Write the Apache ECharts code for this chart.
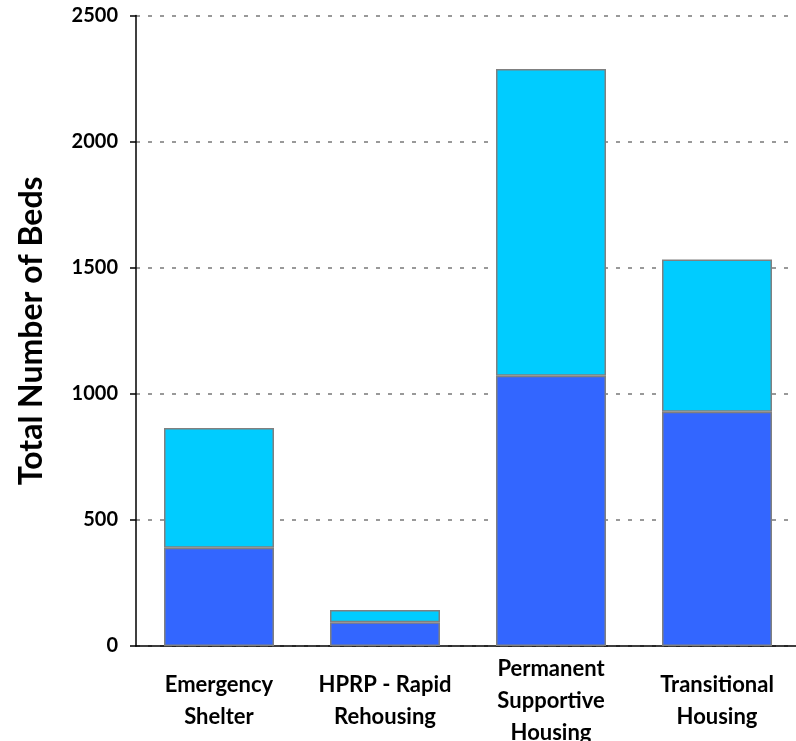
<!DOCTYPE html>
<html><head><meta charset="utf-8">
<script src="https://cdn.jsdelivr.net/npm/echarts@6/dist/echarts.min.js"></script>
<style>html,body{margin:0;padding:0;background:#fff}#c{width:796px;height:741px}</style>
</head><body><div id="c"></div>
<script>
const categories = ['Emergency\nShelter', 'HPRP - Rapid\nRehousing', 'Permanent\nSupportive\nHousing', 'Transitional\nHousing'];
const bottomValues = [390, 94, 1072, 929];
const topValues = [474, 49, 1216, 604];
const yTicks = [0, 500, 1000, 1500, 2000, 2500];
const yName = 'Total Number of Beds';

const chart = echarts.init(document.getElementById('c'));
const font = 'Lato, "Liberation Sans", sans-serif';
chart.setOption({
  animation: false,
  grid: { left: 136, top: 15.5, width: 664, height: 630.5, outerBoundsMode: 'none', containLabel: false },
  xAxis: {
    type: 'category', data: categories,
    axisLine: { lineStyle: { color: '#000', width: 1.5 } },
    axisTick: { show: false },
    axisLabel: { color: '#000', fontFamily: font, fontWeight: 'bold', fontSize: 22, lineHeight: 32, verticalAlign: 'middle', margin: 55, interval: 0 }
  },
  yAxis: {
    type: 'value', min: yTicks[0], max: yTicks[yTicks.length - 1], interval: 500,
    name: yName, nameLocation: 'middle', nameGap: 88, nameRotate: 90,
    nameTextStyle: { color: '#000', fontFamily: font, fontWeight: 'bold', fontSize: 32 },
    axisLine: { show: true, lineStyle: { color: '#000', width: 1.5 } },
    axisTick: { show: true, length: 6, lineStyle: { color: '#000', width: 1.5 } },
    axisLabel: { color: '#000', fontFamily: font, fontWeight: 'bold', fontSize: 20, margin: 18, formatter: v => String(v) },
    splitLine: { show: true, lineStyle: { color: '#999', width: 2, type: [4, 8] } }
  },
  series: [
    { type: 'bar', stack: 'a', data: bottomValues, barWidth: 110,
      itemStyle: { color: '#3366FF', borderColor: '#808080', borderWidth: 1.5 } },
    { type: 'bar', stack: 'a', data: topValues, barWidth: 110,
      itemStyle: { color: '#00CCFF', borderColor: '#808080', borderWidth: 1.5 } }
  ]
});
</script></body></html>
